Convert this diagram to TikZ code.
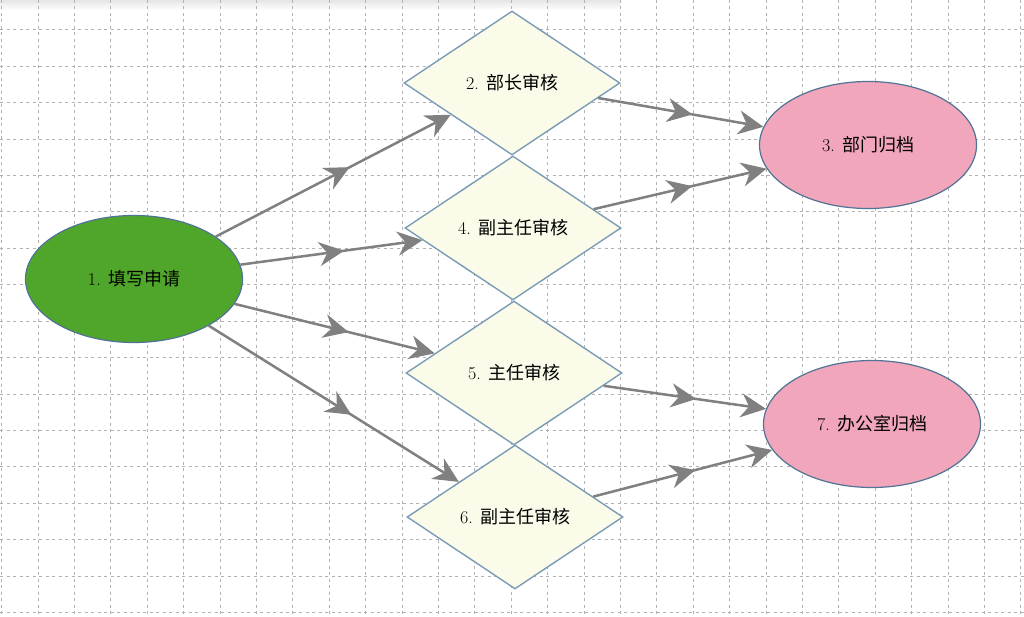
\documentclass[tikz,border=0pt]{standalone}
\usepackage{fontspec}
\newfontfamily\cjk{Noto Sans CJK SC}
\usetikzlibrary{shapes.geometric,arrows.meta,decorations.markings}
\definecolor{greenfill}{RGB}{80,166,42}
\definecolor{pinkfill}{RGB}{242,166,187}
\definecolor{creamfill}{RGB}{251,251,234}
\definecolor{diaborder}{RGB}{122,156,182}
\definecolor{ellborder}{RGB}{80,115,150}
\definecolor{arrc}{RGB}{128,128,128}
\definecolor{gridc}{RGB}{178,178,178}
\begin{document}
\begin{tikzpicture}[x=1pt,y=-1pt,
  gridline/.style={draw=gridc, line width=1pt, dash pattern=on 3pt off 3.5pt},
  txt/.style={font=\fontsize{18}{20}\selectfont, text=black},
  dia/.style={diamond, draw=diaborder, fill=creamfill, line width=1.4pt,
    minimum width=216pt, minimum height=144pt, inner sep=0pt, txt},
  ell/.style={ellipse, draw=ellborder, line width=1.2pt, inner sep=0pt,
    minimum width=217pt, minimum height=127pt, txt},
  tipa/.tip={Stealth[length=25pt,width=24pt,inset=8pt]},
  conn/.style={draw=arrc, line width=2.5pt, -tipa, postaction={decorate},
    decoration={markings, mark=at position 0.57 with {\arrow{tipa}}}}]
\useasboundingbox (0,0) rectangle (1024,617);
\fill[white] (0,0) rectangle (1024,617);
\shade[top color=black!10, bottom color=white] (0,0) rectangle (620,10);
\foreach \i in {0,...,28} \draw[gridline] ({1.7+36.4*\i},0) -- ({1.7+36.4*\i},617);
\foreach \j in {0,...,16} \draw[gridline] (0,{30+36.4*\j}) -- (1024,{30+36.4*\j});

\node[ell, fill=greenfill] (n1) at (134,279) {1. \cjk 填写申请};
\node[dia] (n2) at (512,83) {2. \cjk 部长审核};
\node[dia] (n4) at (513,228) {4. \cjk 副主任审核};
\node[dia] (n5) at (514,373) {5. \cjk 主任审核};
\node[dia] (n6) at (515,517) {6. \cjk 副主任审核};
\node[ell, fill=pinkfill] (n3) at (868,145) {3. \cjk 部门归档};
\node[ell, fill=pinkfill] (n7) at (872,424) {7. \cjk 办公室归档};

\draw[conn] (n1) -- (n2);
\draw[conn] (n1) -- (n4);
\draw[conn] (n1) -- (n5);
\draw[conn] (n1) -- (n6);
\draw[conn] (n2) -- (n3);
\draw[conn] (n4) -- (n3);
\draw[conn] (n5) -- (n7);
\draw[conn] (n6) -- (n7);
\end{tikzpicture}
\end{document}
